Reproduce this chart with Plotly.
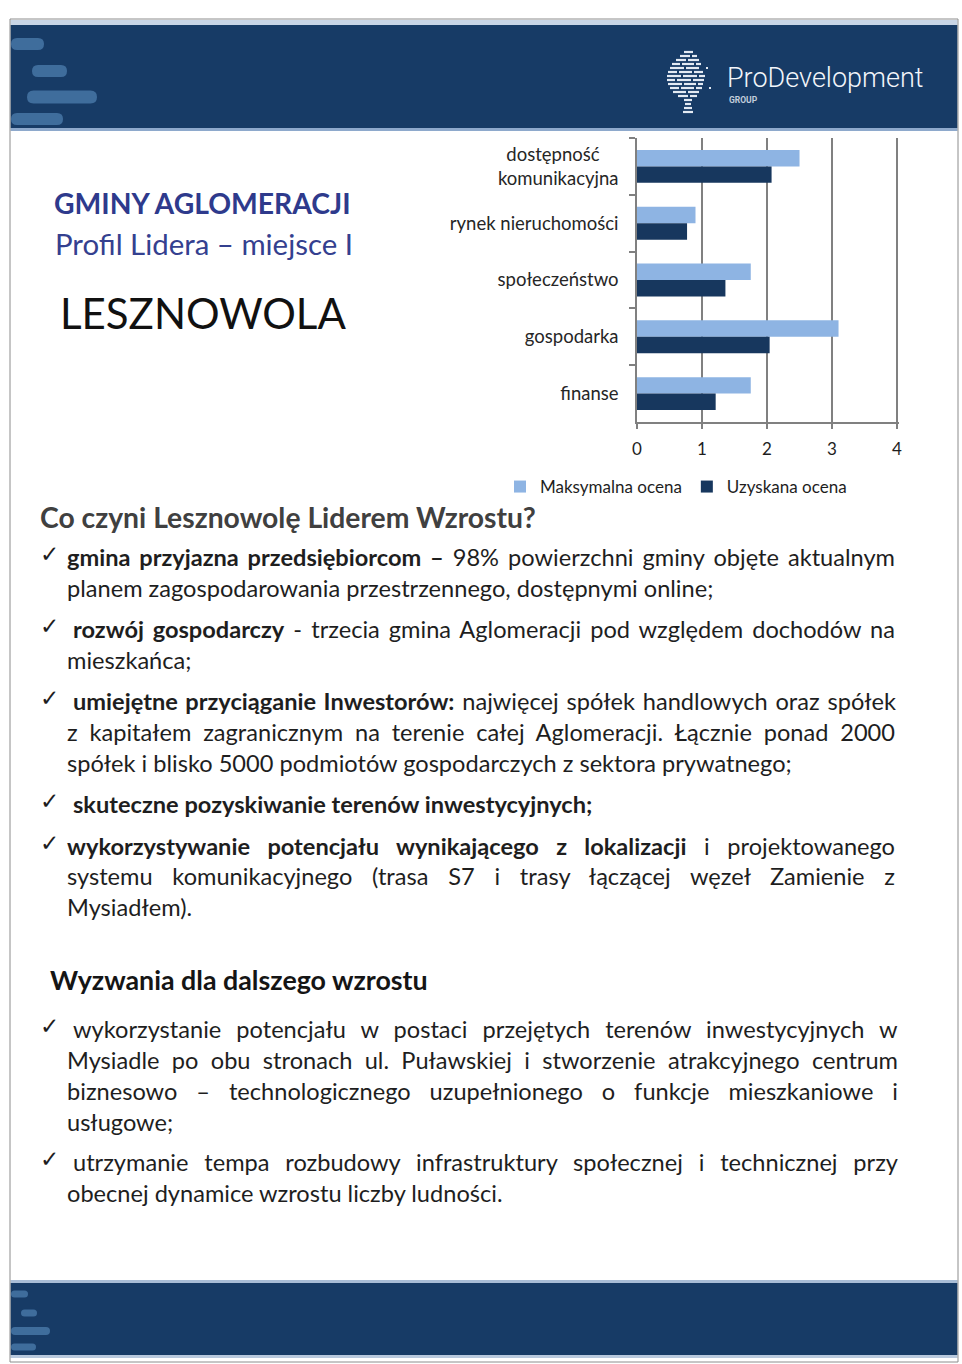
import json
import plotly.graph_objects as go

W, H = 962, 1364

# ---------------- chart data ----------------
categories = ["dostępność komunikacyjna", "rynek nieruchomości", "społeczeństwo", "gospodarka", "finanse"]
category_labels = ["dostępność\u00a0\u00a0\u00a0\u00a0<br>komunikacyjna", "rynek nieruchomości", "społeczeństwo",
                   "gospodarka", "finanse"]
max_scores = [2.5, 0.9, 1.75, 3.1, 1.75]
got_scores = [2.07, 0.77, 1.36, 2.04, 1.21]
series_names = ["Maksymalna ocena", "Uzyskana ocena"]
x_ticks = [0, 1, 2, 3, 4]

# ---------------- text content ----------------
title1 = "GMINY AGLOMERACJI"
title2 = "Profil Lidera – miejsce I"
title3 = "LESZNOWOLA"
heading1 = "Co czyni Lesznowolę Liderem Wzrostu?"
heading2 = "Wyzwania dla dalszego wzrostu"

# (y_px, x_px, text, justify_right_px or None, bullet)
lines = [
    (557, 67, "<b>gmina przyjazna przedsiębiorcom –</b> 98% powierzchni gminy objęte aktualnym", 895, True),
    (588, 67, "planem zagospodarowania przestrzennego, dostępnymi online;", None, False),
    (629, 73, "<b>rozwój gospodarczy</b> - trzecia gmina Aglomeracji pod względem dochodów na", 895, True),
    (660, 67, "mieszkańca;", None, False),
    (701, 73, "<b>umiejętne przyciąganie Inwestorów:</b> najwięcej spółek handlowych oraz spółek", 896, True),
    (732, 67, "z kapitałem zagranicznym na terenie całej Aglomeracji. Łącznie ponad 2000", 895, False),
    (763, 67, "spółek i blisko 5000 podmiotów gospodarczych z sektora prywatnego;", None, False),
    (804, 73, "<b>skuteczne pozyskiwanie terenów inwestycyjnych;</b>", None, True),
    (846, 67, "<b>wykorzystywanie potencjału wynikającego z lokalizacji</b> i projektowanego", 895, True),
    (876, 67, "systemu komunikacyjnego (trasa S7 i trasy łączącej węzeł Zamienie z", 895, False),
    (907, 67, "Mysiadłem).", None, False),
    (1029, 73, "wykorzystanie potencjału w postaci przejętych terenów inwestycyjnych w", 898, True),
    (1060, 67, "Mysiadle po obu stronach ul. Puławskiej i stworzenie atrakcyjnego centrum", 898, False),
    (1091, 67, "biznesowo – technologicznego uzupełnionego o funkcje mieszkaniowe i", 898, False),
    (1122, 67, "usługowe;", None, False),
    (1162, 73, "utrzymanie tempa rozbudowy infrastruktury społecznej i technicznej przy", 898, True),
    (1193, 67, "obecnej dynamice wzrostu liczby ludności.", None, False),
]

FONT = "Lato, 'Open Sans', sans-serif"
NAVY = "#173B66"
STROKE = "#3f6d9c"
LIGHT_BAR = "#8EB4E3"
DARK_BAR = "#17375E"
GRID = "#808080"


def X(px):
    return px / W


def Y(py):
    return 1 - py / H


fig = go.Figure()
fig.add_trace(go.Bar(y=categories, x=max_scores, name=series_names[0], orientation="h",
                     marker=dict(color=LIGHT_BAR, line=dict(width=0))))
fig.add_trace(go.Bar(y=categories, x=got_scores, name=series_names[1], orientation="h",
                     marker=dict(color=DARK_BAR, line=dict(width=0))))

shapes = []


def rect(x0, x1, y0, y1, color, layer="below"):
    shapes.append(dict(type="rect", xref="paper", yref="paper", x0=X(x0), x1=X(x1), y0=Y(y1), y1=Y(y0),
                       line=dict(width=0), fillcolor=color, layer=layer))


# header band
rect(10.5, 957.5, 20, 25, "#c8d5e6")
rect(10.5, 957.5, 25, 128, NAVY)
rect(10.5, 957.5, 128, 131, "#8ea9cc")
# footer band
rect(10.5, 957.5, 1280, 1283, "#a9bdd6")
rect(10.5, 957.5, 1283, 1355, NAVY)
rect(10.5, 957.5, 1355, 1358, "#b8c9de")
# page border
shapes.append(dict(type="rect", xref="paper", yref="paper", x0=X(10), x1=X(958), y0=Y(1362), y1=Y(19),
                   line=dict(color="#8c8c8c", width=1), fillcolor="rgba(0,0,0,0)", layer="above"))


def blob(a, b, y, h, color=STROKE):
    r = h / 2.0
    yt, ym, yb = Y(y - r), Y(y), Y(y + r)
    p = (f"M {X(a + r)},{yt} L {X(b - r)},{yt} Q {X(b)},{yt} {X(b)},{ym} Q {X(b)},{yb} {X(b - r)},{yb} "
         f"L {X(a + r)},{yb} Q {X(a)},{yb} {X(a)},{ym} Q {X(a)},{yt} {X(a + r)},{yt} Z")
    shapes.append(dict(type="path", xref="paper", yref="paper", path=p, fillcolor=color,
                       line=dict(width=0), layer="below"))


for (a, b, yy, h) in [(11, 44, 44, 12), (32, 67, 71, 12), (27, 97, 97, 13), (11, 63, 119, 12)]:
    blob(a, b, yy, h)
for (a, b, yy, h) in [(11, 28, 1294, 7), (21, 37, 1313, 7), (11, 50, 1331, 8), (11, 36, 1347, 7)]:
    blob(a, b, yy, h)

# tree logo built from small white dashes
tree_rows = [
    (52, [(684, 693)]),
    (56, [(680, 690), (692, 697)]),
    (60, [(676, 686), (688, 699)]),
    (64, [(672, 680), (682, 694), (696, 701)]),
    (68, [(670, 684), (686, 699), (706, 708)]),
    (72, [(668, 677), (679, 692), (694, 703)]),
    (76, [(667, 681), (683, 697), (699, 705)]),
    (80, [(667, 675), (677, 691), (693, 704)]),
    (84, [(668, 682), (684, 696), (698, 703)]),
    (88, [(670, 679), (681, 694), (696, 702), (709, 711)]),
    (92, [(673, 686), (688, 699)]),
    (96, [(678, 688), (690, 697)]),
    (100, [(684, 692)]),
    (104, [(685, 691)]),
    (108, [(684, 692)]),
    (112, [(683, 693)]),
]
for (yy, segs) in tree_rows:
    for (a, b) in segs:
        shapes.append(dict(type="line", xref="paper", yref="paper", x0=X(a), x1=X(b), y0=Y(yy), y1=Y(yy),
                           line=dict(color="#e3eaf3", width=2.2)))

annotations = []


def ann(x, y, text, size, color="#1e1e1e", anchor="left", weight=None, family=FONT):
    f = dict(family=family, size=size, color=color)
    if weight:
        f["weight"] = weight
    annotations.append(dict(x=X(x), y=Y(y), xref="paper", yref="paper", text=text, showarrow=False,
                            xanchor=anchor, yanchor="middle", align="left", font=f))
    return len(annotations) - 1


# logo text
ann(725, 78, "ProDevelopment", 27, color="#f2f5fa", family="Roboto, Lato, sans-serif", weight=300)
ann(727, 100, "<b>GROUP</b>", 8.5, color="#c2cddb", family="Roboto, Lato, sans-serif")

# titles
ann(52, 203, "<b>" + title1 + "</b>", 28.3, color="#2E3A8C")
ann(53, 243, title2, 29.4, color="#34408f")
ann(58, 313, title3, 42, color="#111111")
ann(38, 517, "<b>" + heading1 + "</b>", 28.3, color="#404040")
ann(48, 980, "<b>" + heading2 + "</b>", 26.8, color="#151515")

justify = {}
BODY = 23.6
for (yy, xx, txt, jr, bullet) in lines:
    if bullet:
        ann(38, yy - 3, "✓", 23, color="#1e1e1e", family="'DejaVu Sans', sans-serif")
    idx = ann(xx - 2, yy, txt, BODY, color="#1e1e1e")
    if jr:
        justify[str(idx)] = jr

fig.update_layout(
    width=W, height=H,
    margin=dict(l=0, r=0, t=0, b=0, autoexpand=False),
    paper_bgcolor="white",
    plot_bgcolor="white",
    font=dict(family=FONT, color="#1e1e1e"),
    barmode="group",
    bargap=0.42,
    bargroupgap=0.0,
    shapes=shapes,
    annotations=annotations,
    showlegend=True,
    legend=dict(orientation="h", x=X(500), y=Y(487), xanchor="left", yanchor="middle",
                font=dict(size=17, family=FONT, color="#1e1e1e"), itemwidth=30,
                traceorder="normal", bgcolor="rgba(0,0,0,0)", tracegroupgap=0),
    xaxis=dict(domain=[X(637), X(899)], range=[0, 4.03], tickvals=x_ticks, ticktext=[str(v) for v in x_ticks],
               showgrid=True, gridcolor=GRID, gridwidth=1.5, zeroline=False, automargin=False,
               showline=True, linecolor=GRID, linewidth=1.5,
               ticks="outside", ticklen=5, tickcolor=GRID, tickwidth=1.5, tickfont=dict(size=17, color="#1e1e1e"),
               ticklabelstandoff=6, fixedrange=True),
    yaxis=dict(domain=[Y(422), Y(138)], type="category", categoryorder="array", categoryarray=categories,
               tickvals=categories, ticktext=category_labels,
               autorange="reversed", showgrid=False, zeroline=False, automargin=False,
               showline=True, linecolor=GRID, linewidth=1.5,
               ticks="outside", tickson="boundaries", ticklen=6, tickcolor=GRID, tickwidth=1.5,
               tickfont=dict(size=18.5, color="#262626"), ticklabelstandoff=13, fixedrange=True),
)

post = """
(function(){
var gd = document.getElementById('{plot_id}');
document.documentElement.style.margin='0';
document.body.style.margin='0';
document.body.style.overflow='hidden';
var J = %s;
function justify(){
  var gr = gd.getBoundingClientRect();
  Object.keys(J).forEach(function(k){
    var g = gd.querySelector('g.annotation[data-index="'+k+'"]');
    if(!g) return;
    var t = g.querySelector('text.annotation-text');
    if(!t) return;
    t.style.wordSpacing = '0px';
    var n = (t.textContent.match(/ /g)||[]).length;
    if(!n) return;
    var r = t.getBoundingClientRect();
    var extra = J[k] - (r.right - gr.left);
    t.style.wordSpacing = (extra/n)+'px';
  });
}
justify();
if(gd.on) gd.on('plotly_afterplot', justify);
})();
""" % json.dumps(justify)

fig.write_html("out.html", config={"displayModeBar": False}, post_script=post)
